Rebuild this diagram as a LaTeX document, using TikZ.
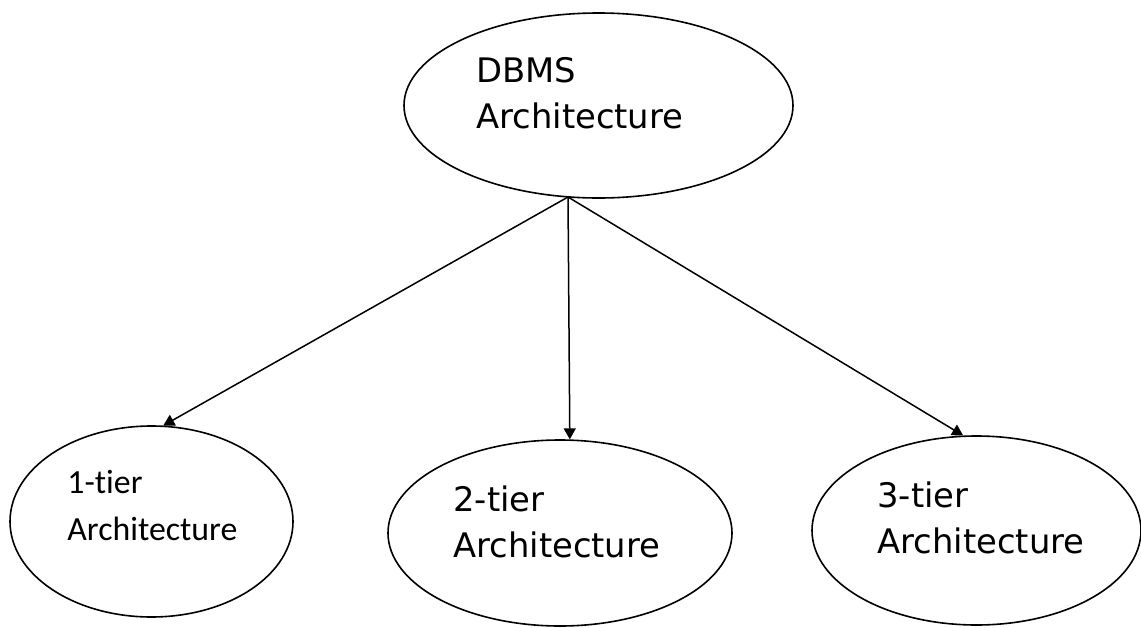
\documentclass[tikz,border=0pt]{standalone}
\usepackage{fontspec}
\setmainfont{DejaVu Sans}
\newfontfamily\calibrifont[Ligatures=NoCommon]{Carlito}
\usetikzlibrary{shapes.geometric}
\usetikzlibrary{arrows.meta}

\begin{document}
\begin{tikzpicture}[x=0.5pt,y=-0.5pt,>={Triangle[length=5.5pt,width=6pt]},
    arch/.style={draw,ellipse,line width=0.8pt,inner sep=0pt},
    caption/.style={anchor=base west,align=left,inner sep=0pt,font=\fontsize{16.9}{23}\selectfont}]
    \useasboundingbox (0,0) rectangle (1141,627);

    % Ellipses
    \node[arch,minimum width=194.5pt,minimum height=92.5pt] (dbms) at (598.5,105.5) {};
    \node[arch,minimum width=141.5pt,minimum height=95.5pt] (tier1) at (151.5,521.5) {};
    \node[arch,minimum width=172pt,minimum height=93pt] (tier2) at (560,533) {};
    \node[arch,minimum width=164.5pt,minimum height=94.5pt] (tier3) at (976.5,530.5) {};

    % Labels (anchored at the baseline of the last line)
    \node[caption] (dbmstxt) at (476,128) {DBMS\\Architecture};
    \node[caption,font=\fontsize{16.9}{23.5}\selectfont\calibrifont] (tier1txt) at (67,540) {1-tier\\Architecture};
    \node[caption] (tier2txt) at (453,557) {2-tier\\Architecture};
    \node[caption] (tier3txt) at (877,553) {3-tier\\Architecture};

    % Arrows
    \coordinate (fork) at (568,197);
    \draw[->,line width=0.75pt] (fork) -- (tier1.83);
    \draw[->,line width=0.75pt] (fork) -- (tier2.84);
    \draw[->,line width=0.75pt] (fork) -- (tier3.98);
\end{tikzpicture}
\end{document}
